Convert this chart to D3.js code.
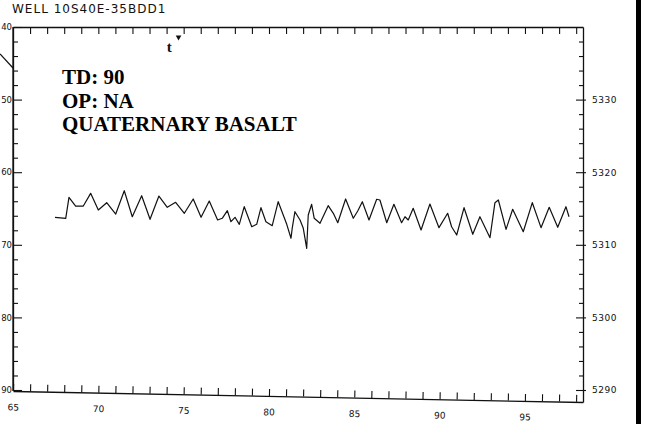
<!DOCTYPE html>
<html><head><meta charset="utf-8">
<script src="https://cdn.jsdelivr.net/npm/d3@7"></script>
<style>html,body{margin:0;padding:0;background:#fff;} svg{display:block}</style>
</head><body>
<svg id="chart" width="646" height="424"></svg>
<script>
const years = [67.46,68.09,68.28,68.67,69.12,69.55,70.00,70.49,71.02,71.52,71.99,72.54,73.03,73.55,74.04,74.53,75.04,75.56,76.02,76.50,76.99,77.26,77.56,77.77,78.01,78.26,78.55,78.99,79.28,79.53,79.82,80.19,80.54,81.04,81.29,81.36,81.52,81.82,82.01,82.21,82.30,82.50,82.65,82.89,82.99,83.47,83.77,84.03,84.49,84.94,85.20,85.47,85.86,86.31,86.50,86.90,87.32,87.77,87.97,88.16,88.45,88.91,89.43,89.96,90.47,90.70,91.00,91.43,91.94,92.36,92.95,93.24,93.44,93.89,94.28,94.90,95.43,95.94,96.42,96.92,97.40,97.58];
const levels = [5313.79,5313.65,5316.54,5315.34,5315.34,5317.09,5314.79,5315.80,5314.24,5317.45,5313.87,5316.76,5313.51,5316.71,5315.17,5315.85,5314.34,5316.31,5313.79,5316.03,5313.42,5313.65,5314.70,5313.18,5313.79,5312.82,5315.25,5312.49,5312.82,5315.11,5313.18,5312.63,5315.94,5312.82,5310.90,5312.27,5314.56,5313.42,5312.27,5309.52,5314.10,5315.58,5313.65,5313.18,5312.96,5315.39,5314.34,5313.04,5316.31,5313.65,5314.66,5315.94,5313.42,5316.27,5316.17,5313.04,5315.58,5313.04,5313.87,5313.42,5315.03,5312.04,5315.62,5312.36,5314.34,5312.49,5311.35,5315.11,5311.45,5313.87,5310.98,5315.80,5316.17,5312.13,5314.89,5311.80,5315.80,5312.36,5315.17,5312.41,5315.25,5313.87];
const xLabels = [65,70,75,80,85,90,95];
const elevLabels = [5290,5300,5310,5320,5330];
const depthLabels = [40,50,60,70,80,90];
const title = "WELL 10S40E-35BDD1";
const notes = ["TD: 90","OP: NA","QUATERNARY BASALT"];
// stray pen stroke at the upper left, outside the frame (year, elevation)
const strayYears = [64.24, 65.0];
const strayLevels = [5336.3, 5334.35];

// ---- layout ----
const svg = d3.select("#chart");
const x = d3.scaleLinear().domain([65, 98.4]).range([13, 583]);
const y = d3.scaleLinear().domain([5290, 5340]).range([390, 27]);
const yDepth = d3.scaleLinear().domain([90, 40]).range([390, 27]);
const tiltPx = 11;
const x0 = x.range()[0], x1 = x.range()[1];
const yBottom = y(5290) + 1;
const tiltDeg = Math.atan(tiltPx / (x1 - x0)) * 180 / Math.PI;
const yBottomRight = yBottom + tiltPx;

const ink = "#111";
const tickFont = "'DejaVu Sans', sans-serif";

function styleAxis(g, fs) {
  g.selectAll("path.domain").attr("stroke", ink).attr("stroke-width", 1.3);
  g.selectAll(".tick line").attr("stroke", ink).attr("stroke-width", 1.1);
  g.selectAll(".tick text").attr("fill", ink).style("font-family", tickFont).style("font-size", fs + "px");
}

// title
svg.append("text").attr("x", 12).attr("y", 13)
  .style("font-family", tickFont).style("font-size", "12px").style("letter-spacing", "1px")
  .attr("fill", ink).text(title);

// top axis (ticks every year, pointing down)
const gTop = svg.append("g").attr("transform", `translate(0,${y(5340)})`)
  .call(d3.axisTop(x).tickValues(d3.range(66, 99)).tickSizeInner(-7).tickSizeOuter(0).tickFormat(""));
styleAxis(gTop, 9);

// bottom axis (slightly tilted as in the scan)
const gBot = svg.append("g")
  .attr("transform", `translate(${x0},${yBottom}) rotate(${tiltDeg}) translate(${-x0},0)`)
  .call(d3.axisBottom(x).tickValues(d3.range(65, 99)).tickSizeInner(-7).tickSizeOuter(0).tickPadding(13)
    .tickFormat(d => xLabels.includes(d) ? d : ""));
styleAxis(gBot, 9);

// left axis: depth below land surface
const gLeftMinor = svg.append("g").attr("transform", `translate(${x0},0)`)
  .call(d3.axisLeft(yDepth).tickValues(d3.range(42, 90, 2).filter(v => v % 10)).tickSize(-5).tickFormat(""));
styleAxis(gLeftMinor, 9);
gLeftMinor.select("path.domain").remove();
const gLeft = svg.append("g").attr("transform", `translate(${x0},0)`)
  .call(d3.axisLeft(yDepth).tickValues(depthLabels).tickSizeInner(-9).tickSizeOuter(0).tickPadding(1.5));
styleAxis(gLeft, 8.5);
gLeft.selectAll(".tick text").style("letter-spacing", "-0.3px");
svg.append("line").attr("x1", x0).attr("x2", x0).attr("y1", y(5340)).attr("y2", yBottom)
  .attr("stroke", ink).attr("stroke-width", 1.3);

// right axis: elevation
const yRight = d3.scaleLinear().domain([y.invert(yBottomRight), 5340]).range([yBottomRight, 27]);
const gRightMinor = svg.append("g").attr("transform", `translate(${x1},0)`)
  .call(d3.axisRight(yRight).tickValues(d3.range(5292, 5340, 2).filter(v => v % 10)).tickSize(-4).tickFormat(""));
styleAxis(gRightMinor, 9);
gRightMinor.select("path.domain").remove();
const gRightOut = svg.append("g").attr("transform", `translate(${x1},0)`)
  .call(d3.axisRight(yRight).tickValues(elevLabels).tickSize(3).tickFormat(""));
styleAxis(gRightOut, 9);
gRightOut.select("path.domain").remove();
const gRight = svg.append("g").attr("transform", `translate(${x1},0)`)
  .call(d3.axisRight(yRight).tickValues(elevLabels).tickSizeInner(-7).tickSizeOuter(0).tickPadding(9)
    .tickFormat(d3.format("d")));
styleAxis(gRight, 9);
gRight.selectAll(".tick text").style("letter-spacing", "0.5px");

// stray stroke
svg.append("path").datum(d3.zip(strayYears, strayLevels))
  .attr("fill", "none").attr("stroke", ink).attr("stroke-width", 1.2)
  .attr("d", d3.line().x(d => x(d[0])).y(d => y(d[1])));

// hydrograph
svg.append("path").datum(d3.zip(years, levels))
  .attr("fill", "none").attr("stroke", ink).attr("stroke-width", 1.2).attr("stroke-linejoin", "round")
  .attr("d", d3.line().x(d => x(d[0])).y(d => y(d[1])));

// notes
const gNotes = svg.append("g");
notes.forEach((t, i) => {
  gNotes.append("text").attr("x", 62).attr("y", 84 + i * 23.5)
    .style("font-family", "'Liberation Serif', 'Times New Roman', serif")
    .style("font-weight", "bold").style("font-size", "21px").attr("fill", "#000").text(t);
});

// small scan marks near the top
svg.append("text").attr("x", x(74.15)).attr("y", y(5336.6))
  .style("font-family", "'Liberation Serif', serif").style("font-weight", "bold").style("font-size", "15px")
  .attr("fill", ink).attr("text-anchor", "middle").text("t");
svg.append("path")
  .attr("d", d3.symbol(d3.symbolTriangle, 14)()).attr("fill", ink)
  .attr("transform", `translate(${x(74.7)},${y(5338.6)}) rotate(180)`);

// thick bar at right edge of the scanned sheet
svg.append("rect").attr("x", 636).attr("y", 0).attr("width", 5).attr("height", 424).attr("fill", "#000");
</script>
</body></html>
